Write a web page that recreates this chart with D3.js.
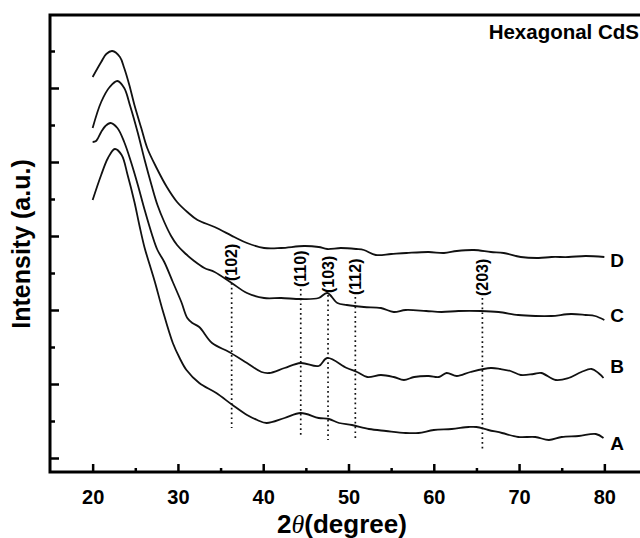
<!DOCTYPE html>
<html>
<head>
<meta charset="utf-8">
<script src="https://cdn.jsdelivr.net/npm/d3@7"></script>
<style>
  body { margin: 0; background: #fff; }
  svg { display: block; font-family: "Liberation Sans", Arial, sans-serif; }
</style>
</head>
<body>
<svg id="chart" width="640" height="538"></svg>
<script>
// ── Data: [2θ (degree), intensity (a.u.)] ─────────────────────────────────────
const curveA = [[20,272],[21,297],[21.8,314],[22.6,323],[23.4,317],[24.1,297],[24.9,270],[25.5,246],
  [26.1,224],[26.7,207],[27.3,190],[28.2,162],[29.4,129],[30.2,114],[31,102],[32.5,89],[34.5,79],
  [36.4,67],[38.1,57],[39.3,52],[40.4,49],[42.5,54],[44.4,59],[46.5,54],[47.7,53],[48.9,49],
  [50.4,47],[52.4,43],[54.4,41],[56.7,39],[58.2,39],[60,42],[62.1,43],[64.1,45],[65,45],[66.4,42],
  [68,39],[69.9,35],[71.9,35],[73.5,32],[75,35],[77,36],[79,38],[79.9,34]];

const curveB = [[20,330],[20.4,331],[21,340],[21.5,346],[22.1,349],[22.9,344],[23.7,330],[24.5,310],
  [25.3,287],[26.1,262],[26.9,239],[27.6,222],[28.4,210],[29.4,190],[30.4,170],[31.1,154],[31.7,149],
  [32.5,145],[34,129],[36,120],[38.1,109],[39.8,100],[40.7,99],[42.5,104],[44.4,109],[46.5,106],
  [47.5,114],[49.8,104],[51,100],[52.2,95],[53.8,97],[55.3,95],[56.5,92],[57.7,95],[59.4,96],
  [60.6,95],[61.5,99],[62.7,96],[64.3,100],[66.7,104],[67.8,103],[69,101],[70.2,97],[71.7,98],
  [72.6,99],[74.3,92],[75.8,94],[77.3,100],[78.5,103],[79.3,99],[79.9,94]];

const curveC = [[20,344],[21,370],[22,385],[22.9,391],[23.7,384],[24.4,366],[25.3,339],[26.1,312],
  [26.9,287],[27.6,267],[28.4,250],[29.2,236],[29.9,227],[30.8,219],[31.9,211],[33.1,204],[34.3,200],
  [36.3,189],[38.1,179],[40.1,174],[42.1,174],[44.4,173],[46.5,174],[47.5,179],[48.7,169],[49.8,167],
  [51.8,165],[53.8,164],[55.3,160],[56.7,162],[59.1,161],[60.9,160],[62.9,161],[65.5,161],[67.6,160],
  [69.9,157],[71.9,156],[73.8,156],[76.1,158],[77.8,157],[78.9,156],[80,152]];

const curveD = [[20,395],[21,410],[21.6,418],[22.3,421],[23.2,415],[23.7,404],[24.3,387],[24.9,367],
  [25.7,344],[26.4,324],[27.5,304],[28.7,285],[29.9,270],[31.1,260],[32.3,252],[34.3,245],[36.6,235],
  [38.1,229],[40.1,224],[42.1,224],[44.8,226],[46.5,225],[47.5,223],[49.1,224],[50.9,223],[51.8,222],
  [53.2,217],[55,218],[56.8,219],[59.4,220],[61.2,219],[62.7,221],[64.7,222],[66.7,220],[68.2,219],
  [70.2,215],[72.3,214],[73.8,215],[75.8,215],[77.8,216],[80,215]];

const curveNames  = ['A', 'B', 'C', 'D'];
const curveLabelY = [29, 106, 157, 212];

// peak annotations
const peakLabels = ['(102)', '(110)', '(103)', '(112)', '(203)'];
const peakPos    = [36.3, 44.4, 47.6, 50.8, 65.7];
const peakTop    = [189, 183, 177, 175, 174];
const peakBottom = [44, 35, 32, 32, 22];

const xMajor = [20, 30, 40, 50, 60, 70, 80];
const xMinor = [25, 35, 45, 55, 65, 75];
const yMajor = [14, 88, 162, 236, 310, 384];
const yMinor = [51, 125, 199, 273, 347, 421];

// ── Scales ────────────────────────────────────────────────────────────────────
const svg = d3.select('#chart');
const x = d3.scaleLinear().domain([15, 85]).range([50, 647]);
const y = d3.scaleLinear().domain([0, 457]).range([472, 15]);

// ── Curves ────────────────────────────────────────────────────────────────────
const line = d3.line()
  .x(d => x(d[0]))
  .y(d => y(d[1]))
  .curve(d3.curveCatmullRom.alpha(0.5));

const curves = [curveA, curveB, curveC, curveD];
svg.append('g')
  .selectAll('path')
  .data(curves)
  .join('path')
    .attr('d', line)
    .attr('fill', 'none')
    .attr('stroke', '#111')
    .attr('stroke-width', 1.8);

svg.append('g')
  .selectAll('text')
  .data(curveNames)
  .join('text')
    .attr('x', x(80) + 6)
    .attr('y', (d, i) => y(curveLabelY[i]))
    .attr('dy', '0.36em')
    .attr('font-size', 19)
    .attr('font-weight', 'bold')
    .text(d => d);

// ── Peak markers ──────────────────────────────────────────────────────────────
const peaks = svg.append('g');
peaks.selectAll('line')
  .data(peakPos)
  .join('line')
    .attr('x1', d => x(d)).attr('x2', d => x(d))
    .attr('y1', (d, i) => y(peakTop[i]))
    .attr('y2', (d, i) => y(peakBottom[i]))
    .attr('stroke', '#111')
    .attr('stroke-width', 1.7)
    .attr('stroke-dasharray', '1.7,3.1');

peaks.selectAll('text')
  .data(peakLabels)
  .join('text')
    .attr('transform', (d, i) => `translate(${x(peakPos[i]) + 5.5},${y(peakTop[i]) - 2}) rotate(-90)`)
    .attr('font-size', 16)
    .attr('font-weight', 'bold')
    .text(d => d);

// ── Axes ──────────────────────────────────────────────────────────────────────
function tickGroup(axis) {
  return g => {
    g.call(axis);
    g.select('.domain').remove();
    g.selectAll('.tick line').attr('stroke', '#000').attr('stroke-width', 2.5);
  };
}

svg.append('g')
  .attr('transform', `translate(0,${y(0)})`)
  .call(tickGroup(d3.axisBottom(x).tickValues(xMajor).tickSize(-8).tickPadding(18).tickFormat(d3.format('d'))))
  .call(g => g.selectAll('.tick text')
    .attr('font-size', 20).attr('font-weight', 'bold').attr('fill', '#000')
    .attr('font-family', '"Liberation Sans", Arial, sans-serif'));

svg.append('g')
  .attr('transform', `translate(0,${y(0)})`)
  .call(tickGroup(d3.axisBottom(x).tickValues(xMinor).tickSize(-4).tickFormat('')));

svg.append('g')
  .attr('transform', `translate(${x(15)},0)`)
  .call(tickGroup(d3.axisLeft(y).tickValues(yMajor).tickSize(-9).tickFormat('')));

svg.append('g')
  .attr('transform', `translate(${x(15)},0)`)
  .call(tickGroup(d3.axisLeft(y).tickValues(yMinor).tickSize(-5).tickFormat('')));

// frame (right side runs off the canvas)
svg.append('rect')
  .attr('x', x(15)).attr('y', y(457))
  .attr('width', x(85) - x(15)).attr('height', y(0) - y(457))
  .attr('fill', 'none')
  .attr('stroke', '#000')
  .attr('stroke-width', 3);

// ── Titles ────────────────────────────────────────────────────────────────────
const xTitle = svg.append('text')
  .attr('x', 342).attr('y', 533)
  .attr('text-anchor', 'middle')
  .attr('font-size', 26)
  .attr('font-weight', 'bold');
xTitle.append('tspan').text('2');
xTitle.append('tspan')
  .attr('font-family', '"Liberation Serif", "Times New Roman", serif')
  .attr('font-style', 'italic')
  .attr('font-weight', 'normal')
  .text('θ');
xTitle.append('tspan').text('(degree)');

svg.append('text')
  .attr('transform', 'translate(30,244) rotate(-90)')
  .attr('text-anchor', 'middle')
  .attr('font-size', 25)
  .attr('font-weight', 'bold')
  .text('Intensity (a.u.)');

svg.append('text')
  .attr('x', 639).attr('y', 39)
  .attr('text-anchor', 'end')
  .attr('font-size', 20.5)
  .attr('font-weight', 'bold')
  .text('Hexagonal CdS');
</script>
</body>
</html>
